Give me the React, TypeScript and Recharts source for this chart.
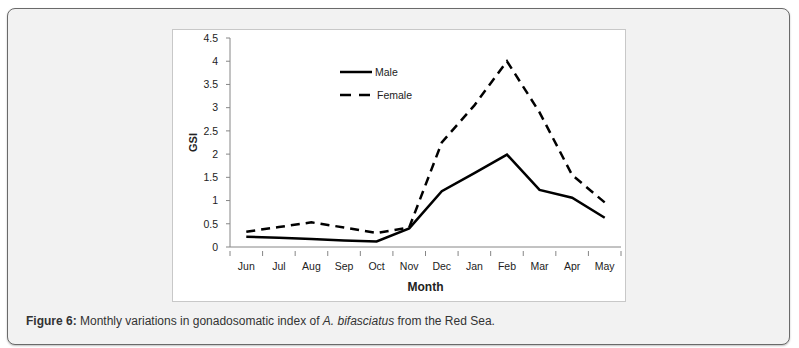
import React from 'react';
import { LineChart, Line, XAxis, YAxis, Legend } from 'recharts';

const months = ['Jun', 'Jul', 'Aug', 'Sep', 'Oct', 'Nov', 'Dec', 'Jan', 'Feb', 'Mar', 'Apr', 'May'];
const male = [0.22, 0.2, 0.17, 0.14, 0.12, 0.4, 1.2, 1.59, 1.99, 1.23, 1.06, 0.63];
const female = [0.33, 0.43, 0.53, 0.42, 0.3, 0.42, 2.25, 3.05, 4.0, 2.9, 1.55, 0.96];
const yTicks = [0, 0.5, 1, 1.5, 2, 2.5, 3, 3.5, 4, 4.5];
const seriesOrder = ['Male', 'Female'];

const data = months.map((m, i) => ({ month: m, Male: male[i], Female: female[i] }));

const CHART_W = 452;
const CHART_H = 271;
const PLOT_LEFT = 57;
const PLOT_RIGHT = 4;
const BAND = (CHART_W - PLOT_LEFT - PLOT_RIGHT) / months.length;

const axisColor = '#868686';
const font = '"Liberation Sans", Arial, sans-serif';

// Excel style: tick marks sit between categories, not on them
const MonthTick = (props: any) => {
  const { x, y, payload, index } = props;
  const last = index === months.length - 1;
  return (
    <g>
      <line x1={x - BAND / 2} y1={y - 4} x2={x - BAND / 2} y2={y + 1} stroke={axisColor} />
      {last && <line x1={x + BAND / 2} y1={y - 4} x2={x + BAND / 2} y2={y + 1} stroke={axisColor} />}
      <text x={x} y={y + 15} textAnchor="middle" fontSize={10.5} fill="#222" fontFamily={font}>
        {payload.value}
      </text>
    </g>
  );
};

const LegendBox = (props: any) => {
  const items = [...(props.payload || [])].sort(
    (a: any, b: any) => seriesOrder.indexOf(a.value) - seriesOrder.indexOf(b.value)
  );
  return (
    <svg width={90} height={40} style={{ display: 'block' }}>
      {items.map((it: any, i: number) => (
        <g key={it.value}>
          <line
            x1={0}
            x2={i === 0 ? 32 : 30}
            y1={8 + i * 23}
            y2={8 + i * 23}
            stroke="#000"
            strokeWidth={2.5}
            strokeDasharray={it.value === 'Female' ? '11 8' : undefined}
          />
          <text x={i === 0 ? 35 : 37} y={12 + i * 23} fontSize={10.5} fill="#222" fontFamily={font}>
            {it.value}
          </text>
        </g>
      ))}
    </svg>
  );
};

const App: React.FC = () => (
  <div style={{ position: 'absolute', left: 0, top: 0, width: 799, height: 348, background: '#fff' }}>
    <div
      style={{
        position: 'absolute',
        left: 7,
        top: 8,
        width: 783,
        height: 337,
        boxSizing: 'border-box',
        border: '1px solid #6a6a6a',
        borderRadius: 8,
        background: '#f2f2f2',
        boxShadow: '0 1px 2px rgba(0,0,0,0.25)',
      }}
    />
    <div
      style={{
        position: 'absolute',
        left: 172,
        top: 29,
        width: CHART_W + 2,
        height: CHART_H + 2,
        boxSizing: 'border-box',
        border: '1px solid #c8c8c8',
        background: '#fff',
      }}
    >
      <LineChart
        width={CHART_W}
        height={CHART_H}
        data={data}
        margin={{ top: 8, right: PLOT_RIGHT, left: 0, bottom: 0 }}
      >
        <XAxis
          dataKey="month"
          stroke={axisColor}
          tickLine={false}
          tick={<MonthTick />}
          interval={0}
          height={54}
          padding={{ left: BAND / 2, right: BAND / 2 }}
          label={{
            value: 'Month',
            position: 'insideBottom',
            offset: 10,
            style: { fontFamily: font, fontSize: 12, fontWeight: 'bold', fill: '#222' },
          }}
        />
        <YAxis
          domain={[0, 4.5]}
          ticks={yTicks}
          interval={0}
          width={PLOT_LEFT}
          stroke={axisColor}
          tickSize={4}
          tickMargin={8}
          tick={{ fontFamily: font, fontSize: 10.5, fill: '#222' }}
          label={{
            value: 'GSI',
            angle: -90,
            position: 'insideLeft',
            offset: 20,
            style: { fontFamily: font, fontSize: 11, fontWeight: 'bold', fill: '#222', textAnchor: 'middle' },
          }}
        />
        <Legend
          layout="vertical"
          verticalAlign="middle"
          align="center"
          wrapperStyle={{ left: 167, top: 34, width: 90, height: 40 }}
          content={<LegendBox />}
        />
        <Line
          type="linear"
          dataKey="Male"
          stroke="#000"
          strokeWidth={2.5}
          dot={false}
          isAnimationActive={false}
        />
        <Line
          type="linear"
          dataKey="Female"
          stroke="#000"
          strokeWidth={2.5}
          strokeDasharray="9 6"
          dot={false}
          isAnimationActive={false}
        />
      </LineChart>
    </div>
    <div
      style={{
        position: 'absolute',
        left: 26,
        top: 314,
        fontFamily: font,
        fontSize: 12,
        color: '#333',
        whiteSpace: 'nowrap',
      }}
    >
      <b>Figure 6:</b> Monthly variations in gonadosomatic index of <i>A. bifasciatus</i> from the Red Sea.
    </div>
  </div>
);

export default App;
